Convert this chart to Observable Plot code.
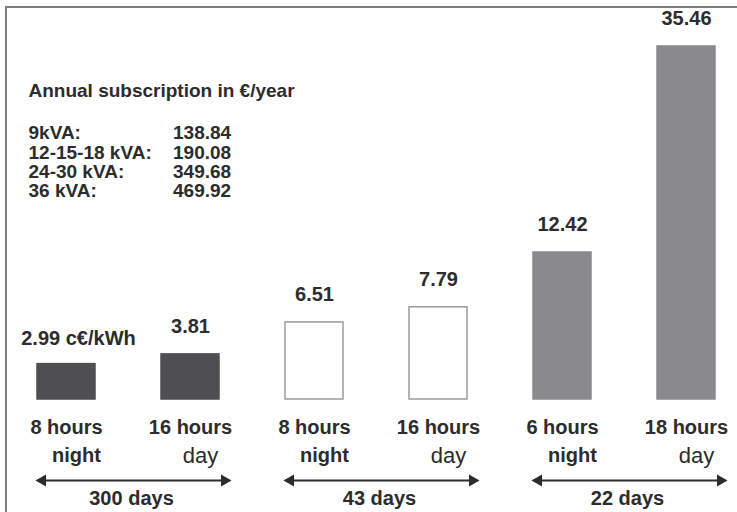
<!DOCTYPE html>
<html>
<head>
<meta charset="utf-8">
<script src="https://cdn.jsdelivr.net/npm/d3@7"></script>
<script src="https://cdn.jsdelivr.net/npm/@observablehq/plot@0.6"></script>
<style>
  html, body { margin: 0; padding: 0; background: #fff; }
  #wrap { position: relative; width: 737px; height: 512px; overflow: hidden; background: #fff; }
  #border { position: absolute; left: 5px; top: 6px; width: 740px; height: 520px;
            border-top: 2px solid #7d7d7d; border-left: 2px solid #7d7d7d; }
  #chart { position: absolute; left: 0; top: 0; }
</style>
</head>
<body>
<div id="wrap"><div id="border"></div><div id="chart"></div></div>
<script>
// ---- data ----
const barIds = ["n300", "d300", "n43", "d43", "n22", "d22"];
const prices = [2.99, 3.81, 6.51, 7.79, 12.42, 35.46];
const priceLabels = ["2.99 c€/kWh", "3.81", "6.51", "7.79", "12.42", "35.46"];
const hoursLabels = ["8 hours", "16 hours", "8 hours", "16 hours", "6 hours", "18 hours"];
const periodLabels = ["night", "day", "night", "day", "night", "day"];
const barFills = ["#4f4f51", "#4f4f51", "#ffffff", "#ffffff", "#8a8a8e", "#8a8a8e"];
const barStrokes = ["#4f4f51", "#4f4f51", "#9a9a9a", "#9a9a9a", "#8a8a8e", "#8a8a8e"];
const groupStart = ["n300", "n43", "n22"];
const groupEnd = ["d300", "d43", "d22"];
const groupLabels = ["300 days", "43 days", "22 days"];
const subscriptionTitle = "Annual subscription in €/year";
const subscriptionLabels = ["9kVA:", "12-15-18 kVA:", "24-30 kVA:", "36 kVA:"];
const subscriptionValues = ["138.84", "190.08", "349.68", "469.92"];

const bars = barIds.map((id, i) => ({
  id, value: prices[i], label: priceLabels[i], hours: hoursLabels[i],
  period: periodLabels[i], fill: barFills[i], stroke: barStrokes[i]
}));
const groups = groupLabels.map((label, i) => ({a: groupStart[i], b: groupEnd[i], label}));

const ink = "#2c2c2c";
const base = () => 0;

const chart = Plot.plot({
  width: 737,
  height: 512,
  marginLeft: 22.5,
  marginRight: 8,
  marginTop: 0,
  marginBottom: 0,
  style: {fontFamily: "'Liberation Sans', Arial, sans-serif", background: "transparent", overflow: "visible"},
  x: {type: "band", domain: barIds, paddingInner: 0.53, paddingOuter: 0.1, axis: null},
  y: {type: "linear", domain: [0, 12.42, 35.46], range: [399, 252, 46], axis: null},
  color: {type: "identity"},
  marks: [
    Plot.barY(bars, {x: "id", y: "value", fill: "fill", stroke: "stroke", strokeWidth: 1.5}),
    // value labels
    Plot.text(bars.slice(0, 1), {x: "id", y: "value", text: "label", dy: -26, dx: 12,
      fontSize: 20, fontWeight: "bold", fill: ink}),
    Plot.text(bars.slice(1), {x: "id", y: "value", text: "label", dy: -28,
      fontSize: 20, fontWeight: "bold", fill: ink}),
    // category labels
    Plot.text(bars, {x: "id", y: base, text: "hours", dy: 28, fontSize: 20, fontWeight: "bold", fill: ink}),
    Plot.text(bars.filter(d => d.period === "night"), {x: "id", y: base, text: "period", dy: 56, dx: 10,
      fontSize: 20, fontWeight: "bold", fill: ink}),
    Plot.text(bars.filter(d => d.period === "day"), {x: "id", y: base, text: "period", dy: 56, dx: 10,
      fontSize: 22, fontWeight: "normal", fill: ink}),
    // group arrows
    Plot.arrow(groups, {x1: "a", x2: "b", y1: base, y2: base, dy: 81, insetStart: -28, insetEnd: -38,
      headLength: 0, stroke: ink, strokeWidth: 1.8, bend: 0}),
    Plot.dot(groups, {x: "a", y: base, dy: 81, dx: -24, symbol: "triangle", rotate: -90, r: 4.5, fill: ink, stroke: "none"}),
    Plot.dot(groups, {x: "b", y: base, dy: 81, dx: 34, symbol: "triangle", rotate: 90, r: 4.5, fill: ink, stroke: "none"}),
    Plot.text(groups, {x: "a", y: base, text: "label", dy: 99, dx: 65, fontSize: 20, fontWeight: "bold", fill: ink}),
    // subscription block
    Plot.text([subscriptionTitle], {frameAnchor: "top-left", text: d => d, dx: 5.5, dy: 83,
      textAnchor: "start", fontSize: 19, fontWeight: "bold", fill: ink}),
    Plot.text([subscriptionLabels.join("\n")], {frameAnchor: "top-left", text: d => d, dx: 5.5, dy: 125,
      textAnchor: "start", lineAnchor: "top", lineHeight: 1.02, fontSize: 19, fontWeight: "bold", fill: ink}),
    Plot.text([subscriptionValues.join("\n")], {frameAnchor: "top-left", text: d => d, dx: 150, dy: 125,
      textAnchor: "start", lineAnchor: "top", lineHeight: 1.02, fontSize: 19, fontWeight: "bold", fill: ink})
  ]
});
document.getElementById("chart").appendChild(chart);
</script>
</body>
</html>
